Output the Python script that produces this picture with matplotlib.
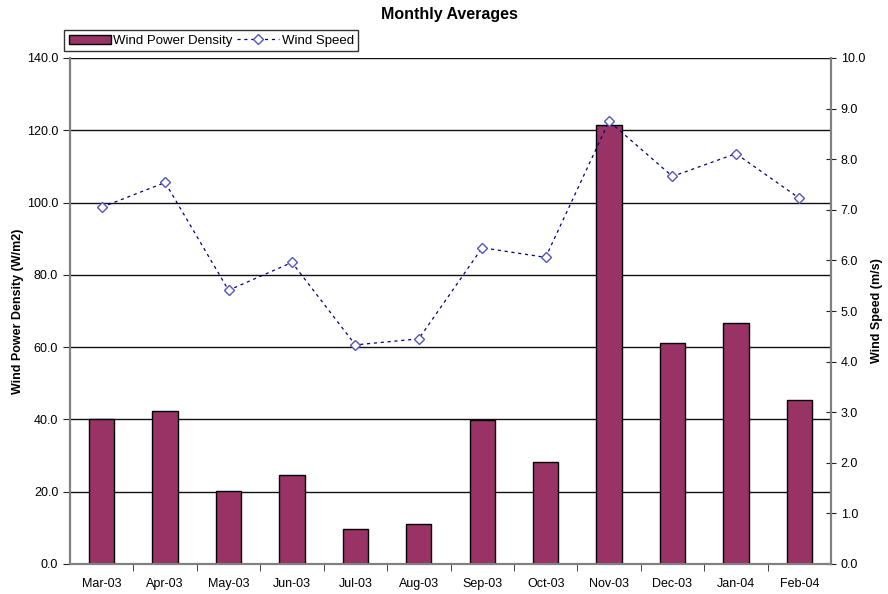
import numpy as np
import matplotlib.pyplot as plt
from matplotlib.ticker import FixedLocator, FormatStrFormatter

plt.rcParams['font.family'] = ['Liberation Sans', 'DejaVu Sans']

months = ['Mar-03', 'Apr-03', 'May-03', 'Jun-03', 'Jul-03', 'Aug-03',
          'Sep-03', 'Oct-03', 'Nov-03', 'Dec-03', 'Jan-04', 'Feb-04']
power_density = [40.2, 42.2, 20.2, 24.7, 9.7, 11.2, 39.8, 28.1, 121.5, 61.1, 66.6, 45.4]
wind_speed = [7.05, 7.54, 5.41, 5.96, 4.33, 4.45, 6.25, 6.06, 8.75, 7.66, 8.11, 7.23]

fig = plt.figure(figsize=(8.88, 5.94), dpi=100)
ax = fig.add_axes([70 / 888, 1 - 564 / 594, 761 / 888, 506 / 594])
ax2 = ax.twinx()

x = np.arange(len(months))
bars = ax.bar(x, power_density, width=0.4, color='#993366', edgecolor='black',
              linewidth=1, zorder=3, label='Wind Power Density')
ax.set_xlim(-0.5, len(months) - 0.5)
ax.set_ylim(0, 140)
ax.set_yticks(np.arange(0, 141, 20))
ax.yaxis.set_major_formatter(FormatStrFormatter('%.1f'))
for yv in np.arange(20, 141, 20):
    ax.axhline(yv, color='#111111', lw=1, zorder=1)

ax.set_xticks(x)
ax.set_xticklabels(months)
ax.xaxis.set_minor_locator(FixedLocator(np.arange(0.5, len(months) - 0.5, 1)))
ax.tick_params(axis='x', which='major', length=0, pad=10, labelsize=9)
ax.tick_params(axis='x', which='minor', length=5, direction='out', color='#222')
ax.tick_params(axis='y', length=5, direction='out', labelsize=9, color='#222')

line, = ax2.plot(x, wind_speed, color='#000080', lw=0.9, ls=(0, (2.5, 3)),
                 marker='D', markersize=5.5, mfc='white', mec='#5555bb',
                 mew=1, zorder=4, label='Wind Speed')
ax2.set_ylim(0, 10)
ax2.set_yticks(np.arange(0, 10.1, 1))
ax2.yaxis.set_major_formatter(FormatStrFormatter('%.1f'))
ax2.tick_params(axis='y', length=7, direction='inout', labelsize=9, color='#222')

for a in (ax, ax2):
    a.spines['top'].set_visible(False)
    for s in ('left', 'right', 'bottom'):
        a.spines[s].set_color('#808080')
        a.spines[s].set_linewidth(1.5)

ax.set_ylabel('Wind Power Density (W/m2)', fontsize=9, fontweight='bold', labelpad=2)
ax2.set_ylabel('Wind Speed (m/s)', fontsize=9, fontweight='bold', labelpad=4)

fig.text(449 / 888, 1 - 14 / 594, 'Monthly Averages', ha='center', va='center',
         fontsize=11.5, fontweight='bold')

leg = fig.legend([bars, line], ['Wind Power Density', 'Wind Speed'], ncol=2,
                 loc='upper left', bbox_to_anchor=(64 / 888, 1 - 30 / 594),
                 fontsize=9.5, frameon=True, fancybox=False, handlelength=3.2,
                 handletextpad=0.2, columnspacing=0.3, borderpad=0.35,
                 borderaxespad=0)
leg.get_frame().set_edgecolor('black')
leg.get_frame().set_linewidth(1)

fig.savefig('out.png', dpi=100)
